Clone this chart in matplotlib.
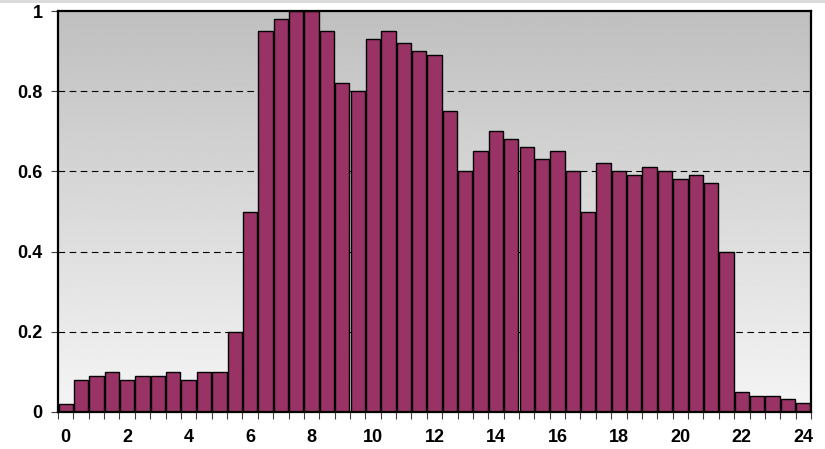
import numpy as np
import matplotlib
matplotlib.use("Agg")
import matplotlib.pyplot as plt
from matplotlib.lines import Line2D

hours = [i * 0.5 for i in range(49)]
values = [0.02, 0.08, 0.09, 0.10, 0.08, 0.09, 0.09, 0.10, 0.08, 0.10,
          0.10, 0.20, 0.50, 0.95, 0.98, 1.00, 1.00, 0.95, 0.82, 0.80,
          0.93, 0.95, 0.92, 0.90, 0.89, 0.75, 0.60, 0.65, 0.70, 0.68,
          0.66, 0.63, 0.65, 0.60, 0.50, 0.62, 0.60, 0.59, 0.61, 0.60,
          0.58, 0.59, 0.57, 0.40, 0.05, 0.04, 0.04, 0.032, 0.022]
xtick_labels = [0, 2, 4, 6, 8, 10, 12, 14, 16, 18, 20, 22, 24]
ytick_values = [0, 0.2, 0.4, 0.6, 0.8, 1.0]
ytick_labels = ["0", "0.2", "0.4", "0.6", "0.8", "1"]

plt.rcParams['font.family'] = ['Liberation Sans', 'DejaVu Sans']

fig = plt.figure(figsize=(8.25, 4.49), dpi=100)
fig.lines.append(Line2D([0, 1], [0.998, 0.998], transform=fig.transFigure,
                        color='#d9d9d9', linewidth=2.0))
ax = fig.add_axes([58/825, 1 - 412/449, (811-58)/825, (412-11)/449])

# gradient background
grad = np.linspace(0.75, 0.96, 256).reshape(-1, 1)
ax.imshow(grad, cmap='gray', vmin=0, vmax=1, aspect='auto',
          extent=[0, 1, 0, 1], transform=ax.transAxes, zorder=0,
          origin='upper')

ax.set_xlim(-0.25, 24.25)
ax.set_ylim(0, 1)

for yv in ytick_values[1:-1]:
    ax.axhline(yv, color='black', linewidth=0.8, dashes=(6, 4), zorder=1)

ax.bar(hours, values, width=0.465, color='#993366', edgecolor='black',
       linewidth=1.0, zorder=2)

ax.set_yticks(ytick_values)
ax.set_yticklabels(ytick_labels, fontsize=13, fontweight='bold')
ax.set_xticks(xtick_labels)
ax.set_xticklabels([str(v) for v in xtick_labels], fontsize=13, fontweight='bold')
ax.tick_params(axis='x', which='major', length=0, pad=12)
ax.set_xticks([-0.25 + 0.5 * k for k in range(50)], minor=True)
ax.tick_params(axis='x', which='minor', length=5, width=0.8, color='#404040', direction='out')
ax.tick_params(axis='y', length=5, width=0.8, color='#404040', pad=6)

for s in ax.spines.values():
    s.set_linewidth(1.6)
    s.set_color('black')
    s.set_zorder(3)

fig.savefig('out.png', dpi=100)
